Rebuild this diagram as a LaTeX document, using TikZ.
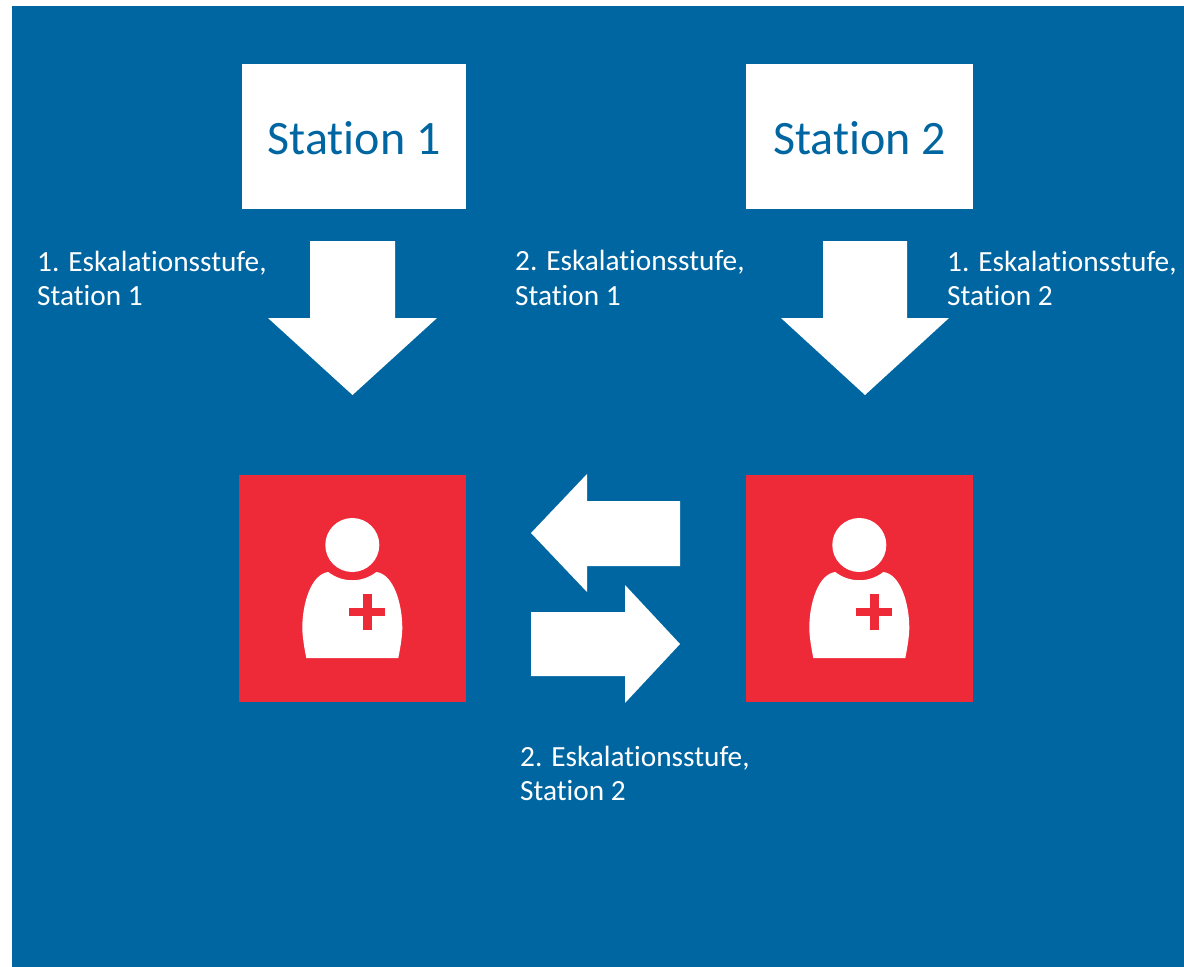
\documentclass[tikz,border=0pt]{standalone}
\usepackage{fontspec}
\setmainfont[RawFeature=-liga]{Carlito}
\definecolor{bgblue}{RGB}{0,102,161}
\definecolor{medred}{RGB}{238,42,57}
\tikzset{
  x=1pt,y=-1pt,
  stationbox/.style={fill=white,draw=none,minimum width=#1,minimum height=145pt,inner sep=0pt,text=bgblue,text height=35pt,text depth=0pt,font=\fontsize{48}{57}\selectfont},
  staffbox/.style={fill=medred,draw=none,minimum width=227pt,minimum height=227pt,inner sep=0pt},
  blockarrow/.style={fill=white,draw=none},
  steplabel/.style={anchor=base west,inner sep=0pt,text=white,font=\fontsize{29.3}{35}\selectfont},
  pics/medic/.style={code={
    \fill[white] (0,-43) circle[radius=27];
    \fill[white] (-46,70) .. controls (-48,60) and (-50,48) .. (-50,40)
      .. controls (-50,15) and (-41,-14) .. (-24,-16)
      .. controls (-10,-5) and (10,-5) .. (24,-16)
      .. controls (41,-14) and (50,15) .. (50,40)
      .. controls (50,48) and (48,60) .. (46,70) -- cycle;
    \fill[medred] (11,6) rectangle (19.5,42);
    \fill[medred] (-3,19.5) rectangle (33,28.3);
  }}
}
\begin{document}
\begin{tikzpicture}
\useasboundingbox (0,0) rectangle (1184,967);
\fill[bgblue] (12,6) rectangle (1184,967);
\node[stationbox=224pt] (s1) at (354,136.5) {Station 1};
\node[stationbox=227pt] (s2) at (859.5,136.5) {Station 2};
\node[staffbox] (m1) at (352.5,588.5) {};
\node[staffbox] (m2) at (859.5,588.5) {};
\pic at (352.3,588) {medic};
\pic at (859.3,588) {medic};
\fill[blockarrow] (310,241) -- (395,241) -- (395,318) -- (437,318) -- (352.5,395) -- (268,318) -- (310,318) -- cycle;
\fill[blockarrow] (823,241) -- (907,241) -- (907,318) -- (949,318) -- (865,395) -- (781,318) -- (823,318) -- cycle;
\fill[blockarrow] (531,533) -- (587,474) -- (587,501) -- (680,501) -- (680,566) -- (587,566) -- (587,592) -- cycle;
\fill[blockarrow] (680,644) -- (625,585) -- (625,612) -- (531,612) -- (531,676) -- (625,676) -- (625,703) -- cycle;
\node[steplabel] (l1a) at (37,271) {1. Eskalationsstufe,};
\node[steplabel] (l1b) at (37,305.5) {Station 1};
\node[steplabel] (l2a) at (515,270.5) {2. Eskalationsstufe,};
\node[steplabel] (l2b) at (515,305) {Station 1};
\node[steplabel] (l3a) at (947,271) {1. Eskalationsstufe,};
\node[steplabel] (l3b) at (947,305.5) {Station 2};
\node[steplabel] (l4a) at (520,766) {2. Eskalationsstufe,};
\node[steplabel] (l4b) at (520,800.5) {Station 2};
\end{tikzpicture}
\end{document}
